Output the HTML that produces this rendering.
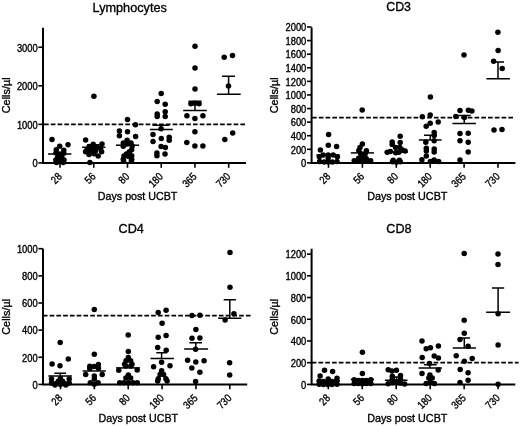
<!DOCTYPE html><html><head><meta charset="utf-8"><style>html,body{margin:0;padding:0;background:#fff;}svg{display:block;will-change:transform;}text{fill:#000;stroke:#000;stroke-width:0.35px;}</style></head><body>
<svg width="520" height="426" viewBox="0 0 520 426" font-family='"Liberation Sans", sans-serif'>
<rect width="520" height="426" fill="#fff"/>
<g><path d="M43 27.8V162.9H246.0" fill="none" stroke="#000" stroke-width="2.0"/><path d="M38.4 162.90H43" stroke="#000" stroke-width="1.6"/><text transform="rotate(0.01 37.7 167.20)" x="37.7" y="167.20" font-size="10.0" text-anchor="end" textLength="5.2" lengthAdjust="spacingAndGlyphs">0</text><path d="M38.4 124.35H43" stroke="#000" stroke-width="1.6"/><text transform="rotate(0.01 37.7 128.65)" x="37.7" y="128.65" font-size="10.0" text-anchor="end" textLength="20.8" lengthAdjust="spacingAndGlyphs">1000</text><path d="M38.4 85.80H43" stroke="#000" stroke-width="1.6"/><text transform="rotate(0.01 37.7 90.10)" x="37.7" y="90.10" font-size="10.0" text-anchor="end" textLength="20.8" lengthAdjust="spacingAndGlyphs">2000</text><path d="M38.4 47.25H43" stroke="#000" stroke-width="1.6"/><text transform="rotate(0.01 37.7 51.55)" x="37.7" y="51.55" font-size="10.0" text-anchor="end" textLength="20.8" lengthAdjust="spacingAndGlyphs">3000</text><path d="M60.00 162.9V167.8" stroke="#000" stroke-width="1.6"/><text transform="translate(62.50,177.20) rotate(-45)" font-size="10.8" text-anchor="end" textLength="10.2" lengthAdjust="spacingAndGlyphs">28</text><path d="M93.74 162.9V167.8" stroke="#000" stroke-width="1.6"/><text transform="translate(96.24,177.20) rotate(-45)" font-size="10.8" text-anchor="end" textLength="10.2" lengthAdjust="spacingAndGlyphs">56</text><path d="M127.48 162.9V167.8" stroke="#000" stroke-width="1.6"/><text transform="translate(129.98,177.20) rotate(-45)" font-size="10.8" text-anchor="end" textLength="10.2" lengthAdjust="spacingAndGlyphs">80</text><path d="M161.22 162.9V167.8" stroke="#000" stroke-width="1.6"/><text transform="translate(163.72,177.20) rotate(-45)" font-size="10.8" text-anchor="end" textLength="15.3" lengthAdjust="spacingAndGlyphs">180</text><path d="M194.96 162.9V167.8" stroke="#000" stroke-width="1.6"/><text transform="translate(197.46,177.20) rotate(-45)" font-size="10.8" text-anchor="end" textLength="15.3" lengthAdjust="spacingAndGlyphs">365</text><path d="M228.70 162.9V167.8" stroke="#000" stroke-width="1.6"/><text transform="translate(231.20,177.20) rotate(-45)" font-size="10.8" text-anchor="end" textLength="15.3" lengthAdjust="spacingAndGlyphs">730</text><path d="M44.03 124.4H245.0" stroke="#000" stroke-width="1.7" stroke-dasharray="4.67 2.1"/><text transform="rotate(0.01 129.7 11.8)" x="129.7" y="11.8" font-size="13.6" text-anchor="middle" textLength="74.2" lengthAdjust="spacingAndGlyphs">Lymphocytes</text><text transform="rotate(0.01 137.6 200.4)" x="137.6" y="200.4" font-size="11.2" text-anchor="middle" textLength="79.5" lengthAdjust="spacingAndGlyphs">Days post UCBT</text><text transform="translate(9.8,95.3) rotate(-89.99)" font-size="11.1" text-anchor="middle" textLength="35.9" lengthAdjust="spacingAndGlyphs">Cells/µl</text><path d="M48.1 154.0H71.4" stroke="#000" stroke-width="1.5" fill="none"/><path d="M82.1 147.3H105.4M87.4 144.8H99.8M93.6 144.8V147.3" stroke="#000" stroke-width="1.5" fill="none"/><path d="M115.9 145.2H139.1" stroke="#000" stroke-width="1.5" fill="none"/><path d="M149.9 129.6H172.8M152.6 125.2H169.2M161.1 125.2V129.6" stroke="#000" stroke-width="1.5" fill="none"/><path d="M183.2 110.5H206.8M188.5 101.2H201.5M195.0 101.2V110.5" stroke="#000" stroke-width="1.5" fill="none"/><path d="M216.9 94.2H240.7M222.0 76.3H235.0M228.6 76.3V94.2" stroke="#000" stroke-width="1.5" fill="none"/><circle cx="52.0" cy="139.4" r="2.75"/><circle cx="68.0" cy="144.8" r="2.75"/><circle cx="59.7" cy="146.2" r="2.75"/><circle cx="56.3" cy="149.8" r="2.75"/><circle cx="63.8" cy="150.2" r="2.75"/><circle cx="56.0" cy="153.0" r="2.75"/><circle cx="63.8" cy="153.2" r="2.75"/><circle cx="59.7" cy="153.9" r="2.75"/><circle cx="59.7" cy="155.5" r="2.75"/><circle cx="57.6" cy="157.6" r="2.75"/><circle cx="61.8" cy="157.6" r="2.75"/><circle cx="55.8" cy="160.0" r="2.75"/><circle cx="64.0" cy="160.0" r="2.75"/><circle cx="56.5" cy="162.6" r="2.75"/><circle cx="63.2" cy="162.6" r="2.75"/><circle cx="59.8" cy="161.5" r="2.75"/><circle cx="93.9" cy="96.3" r="2.75"/><circle cx="85.6" cy="139.9" r="2.75"/><circle cx="93.2" cy="144.2" r="2.75"/><circle cx="102.0" cy="144.0" r="2.75"/><circle cx="92.6" cy="147.6" r="2.75"/><circle cx="89.2" cy="146.5" r="2.75"/><circle cx="97.4" cy="147.6" r="2.75"/><circle cx="100.6" cy="148.6" r="2.75"/><circle cx="86.5" cy="150.5" r="2.75"/><circle cx="85.6" cy="151.8" r="2.75"/><circle cx="90.4" cy="150.6" r="2.75"/><circle cx="95.6" cy="150.8" r="2.75"/><circle cx="101.6" cy="151.8" r="2.75"/><circle cx="89.0" cy="154.4" r="2.75"/><circle cx="94.0" cy="153.8" r="2.75"/><circle cx="98.2" cy="156.0" r="2.75"/><circle cx="89.9" cy="162.4" r="2.75"/><circle cx="127.5" cy="119.6" r="2.75"/><circle cx="135.5" cy="124.8" r="2.75"/><circle cx="119.4" cy="130.9" r="2.75"/><circle cx="119.4" cy="135.8" r="2.75"/><circle cx="127.5" cy="131.8" r="2.75"/><circle cx="135.6" cy="136.5" r="2.75"/><circle cx="127.1" cy="140.3" r="2.75"/><circle cx="123.3" cy="143.0" r="2.75"/><circle cx="131.0" cy="143.0" r="2.75"/><circle cx="123.3" cy="146.2" r="2.75"/><circle cx="132.1" cy="145.9" r="2.75"/><circle cx="131.7" cy="149.7" r="2.75"/><circle cx="129.3" cy="151.8" r="2.75"/><circle cx="126.4" cy="154.0" r="2.75"/><circle cx="124.0" cy="156.0" r="2.75"/><circle cx="131.7" cy="155.7" r="2.75"/><circle cx="128.5" cy="156.5" r="2.75"/><circle cx="127.3" cy="144.0" r="2.75"/><circle cx="123.3" cy="159.2" r="2.75"/><circle cx="131.7" cy="159.2" r="2.75"/><circle cx="123.6" cy="161.3" r="2.75"/><circle cx="131.4" cy="161.3" r="2.75"/><circle cx="161.2" cy="93.4" r="2.75"/><circle cx="157.2" cy="101.6" r="2.75"/><circle cx="165.2" cy="104.3" r="2.75"/><circle cx="157.2" cy="113.9" r="2.75"/><circle cx="157.2" cy="116.6" r="2.75"/><circle cx="165.2" cy="111.7" r="2.75"/><circle cx="165.2" cy="116.4" r="2.75"/><circle cx="161.1" cy="128.8" r="2.75"/><circle cx="153.0" cy="134.5" r="2.75"/><circle cx="153.0" cy="141.6" r="2.75"/><circle cx="161.3" cy="138.6" r="2.75"/><circle cx="169.2" cy="137.2" r="2.75"/><circle cx="169.2" cy="140.2" r="2.75"/><circle cx="161.1" cy="146.4" r="2.75"/><circle cx="165.4" cy="147.6" r="2.75"/><circle cx="156.9" cy="152.9" r="2.75"/><circle cx="156.9" cy="155.7" r="2.75"/><circle cx="165.0" cy="154.0" r="2.75"/><circle cx="195" cy="46.3" r="2.75"/><circle cx="195" cy="68.1" r="2.75"/><circle cx="195" cy="89.0" r="2.75"/><circle cx="190.9" cy="103.8" r="2.75"/><circle cx="195" cy="103.2" r="2.75"/><circle cx="199.1" cy="103.8" r="2.75"/><circle cx="186.9" cy="115.8" r="2.75"/><circle cx="194.9" cy="118.6" r="2.75"/><circle cx="202.9" cy="115.8" r="2.75"/><circle cx="194.9" cy="131.8" r="2.75"/><circle cx="186.8" cy="142.6" r="2.75"/><circle cx="194.9" cy="146.0" r="2.75"/><circle cx="202.9" cy="146.0" r="2.75"/><circle cx="224.2" cy="57.2" r="2.75"/><circle cx="232.5" cy="55.6" r="2.75"/><circle cx="228.5" cy="86.1" r="2.75"/><circle cx="232.7" cy="133.1" r="2.75"/><circle cx="224.8" cy="139.5" r="2.75"/></g>
<g><path d="M311.6 27.4V162.9H515.4" fill="none" stroke="#000" stroke-width="2.0"/><path d="M307.0 162.90H311.6" stroke="#000" stroke-width="1.6"/><text transform="rotate(0.01 306.3 167.20)" x="306.3" y="167.20" font-size="10.0" text-anchor="end" textLength="5.2" lengthAdjust="spacingAndGlyphs">0</text><path d="M307.0 149.31H311.6" stroke="#000" stroke-width="1.6"/><text transform="rotate(0.01 306.3 153.61)" x="306.3" y="153.61" font-size="10.0" text-anchor="end" textLength="15.6" lengthAdjust="spacingAndGlyphs">200</text><path d="M307.0 135.72H311.6" stroke="#000" stroke-width="1.6"/><text transform="rotate(0.01 306.3 140.02)" x="306.3" y="140.02" font-size="10.0" text-anchor="end" textLength="15.6" lengthAdjust="spacingAndGlyphs">400</text><path d="M307.0 122.13H311.6" stroke="#000" stroke-width="1.6"/><text transform="rotate(0.01 306.3 126.43)" x="306.3" y="126.43" font-size="10.0" text-anchor="end" textLength="15.6" lengthAdjust="spacingAndGlyphs">600</text><path d="M307.0 108.54H311.6" stroke="#000" stroke-width="1.6"/><text transform="rotate(0.01 306.3 112.84)" x="306.3" y="112.84" font-size="10.0" text-anchor="end" textLength="15.6" lengthAdjust="spacingAndGlyphs">800</text><path d="M307.0 94.95H311.6" stroke="#000" stroke-width="1.6"/><text transform="rotate(0.01 306.3 99.25)" x="306.3" y="99.25" font-size="10.0" text-anchor="end" textLength="20.8" lengthAdjust="spacingAndGlyphs">1000</text><path d="M307.0 81.36H311.6" stroke="#000" stroke-width="1.6"/><text transform="rotate(0.01 306.3 85.66)" x="306.3" y="85.66" font-size="10.0" text-anchor="end" textLength="20.8" lengthAdjust="spacingAndGlyphs">1200</text><path d="M307.0 67.77H311.6" stroke="#000" stroke-width="1.6"/><text transform="rotate(0.01 306.3 72.07)" x="306.3" y="72.07" font-size="10.0" text-anchor="end" textLength="20.8" lengthAdjust="spacingAndGlyphs">1400</text><path d="M307.0 54.18H311.6" stroke="#000" stroke-width="1.6"/><text transform="rotate(0.01 306.3 58.48)" x="306.3" y="58.48" font-size="10.0" text-anchor="end" textLength="20.8" lengthAdjust="spacingAndGlyphs">1600</text><path d="M307.0 40.59H311.6" stroke="#000" stroke-width="1.6"/><text transform="rotate(0.01 306.3 44.89)" x="306.3" y="44.89" font-size="10.0" text-anchor="end" textLength="20.8" lengthAdjust="spacingAndGlyphs">1800</text><path d="M307.0 27.00H311.6" stroke="#000" stroke-width="1.6"/><text transform="rotate(0.01 306.3 31.30)" x="306.3" y="31.30" font-size="10.0" text-anchor="end" textLength="20.8" lengthAdjust="spacingAndGlyphs">2000</text><path d="M328.50 162.9V167.8" stroke="#000" stroke-width="1.6"/><text transform="translate(331.00,177.20) rotate(-45)" font-size="10.8" text-anchor="end" textLength="10.2" lengthAdjust="spacingAndGlyphs">28</text><path d="M362.40 162.9V167.8" stroke="#000" stroke-width="1.6"/><text transform="translate(364.90,177.20) rotate(-45)" font-size="10.8" text-anchor="end" textLength="10.2" lengthAdjust="spacingAndGlyphs">56</text><path d="M396.30 162.9V167.8" stroke="#000" stroke-width="1.6"/><text transform="translate(398.80,177.20) rotate(-45)" font-size="10.8" text-anchor="end" textLength="10.2" lengthAdjust="spacingAndGlyphs">80</text><path d="M430.20 162.9V167.8" stroke="#000" stroke-width="1.6"/><text transform="translate(432.70,177.20) rotate(-45)" font-size="10.8" text-anchor="end" textLength="15.3" lengthAdjust="spacingAndGlyphs">180</text><path d="M464.10 162.9V167.8" stroke="#000" stroke-width="1.6"/><text transform="translate(466.60,177.20) rotate(-45)" font-size="10.8" text-anchor="end" textLength="15.3" lengthAdjust="spacingAndGlyphs">365</text><path d="M498.00 162.9V167.8" stroke="#000" stroke-width="1.6"/><text transform="translate(500.50,177.20) rotate(-45)" font-size="10.8" text-anchor="end" textLength="15.3" lengthAdjust="spacingAndGlyphs">730</text><path d="M312.03 117.7H513.5" stroke="#000" stroke-width="1.7" stroke-dasharray="4.67 2.1"/><text transform="rotate(0.01 398.6 11.2)" x="398.6" y="11.2" font-size="13.6" text-anchor="middle" textLength="24.8" lengthAdjust="spacingAndGlyphs">CD3</text><text transform="rotate(0.01 407.3 200.4)" x="407.3" y="200.4" font-size="11.2" text-anchor="middle" textLength="80.3" lengthAdjust="spacingAndGlyphs">Days post UCBT</text><text transform="translate(278.4,95.3) rotate(-89.99)" font-size="11.1" text-anchor="middle" textLength="35.9" lengthAdjust="spacingAndGlyphs">Cells/µl</text><path d="M316.4 155.1H339.6" stroke="#000" stroke-width="1.5" fill="none"/><path d="M350.8 152.9H374.0" stroke="#000" stroke-width="1.5" fill="none"/><path d="M384.6 152.0H408.0" stroke="#000" stroke-width="1.5" fill="none"/><path d="M418.9 140.1H441.6M424.0 135.3H436.6M430.3 135.3V140.1" stroke="#000" stroke-width="1.5" fill="none"/><path d="M452.4 123.5H475.9M458.0 115.6H470.7M464.2 115.6V123.5" stroke="#000" stroke-width="1.5" fill="none"/><path d="M486.4 78.7H509.9M492.0 62.0H504.0M498.0 62.0V78.7" stroke="#000" stroke-width="1.5" fill="none"/><circle cx="328.6" cy="134.4" r="2.75"/><circle cx="328.3" cy="145.3" r="2.75"/><circle cx="336.6" cy="146.6" r="2.75"/><circle cx="320.4" cy="150.0" r="2.75"/><circle cx="319.3" cy="156.8" r="2.75"/><circle cx="323.2" cy="155.0" r="2.75"/><circle cx="328.2" cy="154.9" r="2.75"/><circle cx="333.2" cy="155.0" r="2.75"/><circle cx="337.4" cy="156.8" r="2.75"/><circle cx="328.2" cy="158.0" r="2.75"/><circle cx="319.6" cy="161.6" r="2.75"/><circle cx="324.2" cy="162.0" r="2.75"/><circle cx="328.2" cy="162.0" r="2.75"/><circle cx="332.3" cy="162.0" r="2.75"/><circle cx="337.0" cy="161.6" r="2.75"/><circle cx="362.2" cy="109.9" r="2.75"/><circle cx="362.4" cy="144.0" r="2.75"/><circle cx="360.0" cy="147.6" r="2.75"/><circle cx="358.8" cy="150.6" r="2.75"/><circle cx="366.4" cy="150.8" r="2.75"/><circle cx="360.6" cy="153.4" r="2.75"/><circle cx="365.4" cy="153.6" r="2.75"/><circle cx="362.2" cy="156.6" r="2.75"/><circle cx="358.6" cy="158.2" r="2.75"/><circle cx="366.2" cy="158.4" r="2.75"/><circle cx="354.2" cy="160.8" r="2.75"/><circle cx="358.2" cy="161.2" r="2.75"/><circle cx="362.4" cy="161.6" r="2.75"/><circle cx="366.6" cy="161.2" r="2.75"/><circle cx="370.6" cy="160.8" r="2.75"/><circle cx="400.2" cy="136.3" r="2.75"/><circle cx="392.2" cy="142.1" r="2.75"/><circle cx="400.2" cy="142.5" r="2.75"/><circle cx="392.2" cy="144.6" r="2.75"/><circle cx="395.7" cy="147.4" r="2.75"/><circle cx="399.8" cy="147.4" r="2.75"/><circle cx="387.3" cy="152.3" r="2.75"/><circle cx="390.4" cy="151.4" r="2.75"/><circle cx="405.1" cy="151.0" r="2.75"/><circle cx="402.4" cy="150.0" r="2.75"/><circle cx="395.7" cy="152.8" r="2.75"/><circle cx="398.9" cy="152.3" r="2.75"/><circle cx="393.2" cy="160.3" r="2.75"/><circle cx="399.4" cy="160.3" r="2.75"/><circle cx="392.5" cy="161.8" r="2.75"/><circle cx="400.3" cy="161.8" r="2.75"/><circle cx="396.4" cy="162.2" r="2.75"/><circle cx="430.4" cy="97.0" r="2.75"/><circle cx="422.3" cy="116.8" r="2.75"/><circle cx="430.2" cy="114.9" r="2.75"/><circle cx="438.2" cy="121.9" r="2.75"/><circle cx="430.2" cy="123.3" r="2.75"/><circle cx="426.2" cy="126.2" r="2.75"/><circle cx="434.2" cy="132.4" r="2.75"/><circle cx="434.2" cy="135.4" r="2.75"/><circle cx="425.8" cy="142.2" r="2.75"/><circle cx="434.2" cy="140.8" r="2.75"/><circle cx="426.3" cy="148.2" r="2.75"/><circle cx="426.3" cy="151.1" r="2.75"/><circle cx="426.3" cy="156.0" r="2.75"/><circle cx="434.2" cy="149.1" r="2.75"/><circle cx="434.2" cy="152.1" r="2.75"/><circle cx="421.9" cy="159.7" r="2.75"/><circle cx="430.3" cy="161.5" r="2.75"/><circle cx="434.2" cy="160.0" r="2.75"/><circle cx="438.6" cy="161.5" r="2.75"/><circle cx="464.0" cy="54.9" r="2.75"/><circle cx="460.0" cy="110.4" r="2.75"/><circle cx="468.4" cy="110.2" r="2.75"/><circle cx="471.9" cy="111.0" r="2.75"/><circle cx="455.8" cy="116.4" r="2.75"/><circle cx="464.4" cy="117.6" r="2.75"/><circle cx="460.0" cy="133.6" r="2.75"/><circle cx="468.2" cy="133.2" r="2.75"/><circle cx="460.0" cy="140.7" r="2.75"/><circle cx="468.2" cy="142.3" r="2.75"/><circle cx="468.2" cy="151.9" r="2.75"/><circle cx="460.0" cy="159.9" r="2.75"/><circle cx="497.9" cy="32.3" r="2.75"/><circle cx="498.1" cy="50.6" r="2.75"/><circle cx="493.6" cy="61.2" r="2.75"/><circle cx="502.2" cy="68.5" r="2.75"/><circle cx="494.0" cy="130.1" r="2.75"/><circle cx="502.0" cy="129.4" r="2.75"/></g>
<g><path d="M43 248.7V384.4H247.2" fill="none" stroke="#000" stroke-width="2.0"/><path d="M38.4 384.40H43" stroke="#000" stroke-width="1.6"/><text transform="rotate(0.01 37.7 388.70)" x="37.7" y="388.70" font-size="10.0" text-anchor="end" textLength="5.2" lengthAdjust="spacingAndGlyphs">0</text><path d="M38.4 357.26H43" stroke="#000" stroke-width="1.6"/><text transform="rotate(0.01 37.7 361.56)" x="37.7" y="361.56" font-size="10.0" text-anchor="end" textLength="15.6" lengthAdjust="spacingAndGlyphs">200</text><path d="M38.4 330.12H43" stroke="#000" stroke-width="1.6"/><text transform="rotate(0.01 37.7 334.42)" x="37.7" y="334.42" font-size="10.0" text-anchor="end" textLength="15.6" lengthAdjust="spacingAndGlyphs">400</text><path d="M38.4 302.98H43" stroke="#000" stroke-width="1.6"/><text transform="rotate(0.01 37.7 307.28)" x="37.7" y="307.28" font-size="10.0" text-anchor="end" textLength="15.6" lengthAdjust="spacingAndGlyphs">600</text><path d="M38.4 275.84H43" stroke="#000" stroke-width="1.6"/><text transform="rotate(0.01 37.7 280.14)" x="37.7" y="280.14" font-size="10.0" text-anchor="end" textLength="15.6" lengthAdjust="spacingAndGlyphs">800</text><path d="M38.4 248.70H43" stroke="#000" stroke-width="1.6"/><text transform="rotate(0.01 37.7 253.00)" x="37.7" y="253.00" font-size="10.0" text-anchor="end" textLength="20.8" lengthAdjust="spacingAndGlyphs">1000</text><path d="M60.50 384.4V389.29999999999995" stroke="#000" stroke-width="1.6"/><text transform="translate(63.00,398.70) rotate(-45)" font-size="10.8" text-anchor="end" textLength="10.2" lengthAdjust="spacingAndGlyphs">28</text><path d="M94.36 384.4V389.29999999999995" stroke="#000" stroke-width="1.6"/><text transform="translate(96.86,398.70) rotate(-45)" font-size="10.8" text-anchor="end" textLength="10.2" lengthAdjust="spacingAndGlyphs">56</text><path d="M128.22 384.4V389.29999999999995" stroke="#000" stroke-width="1.6"/><text transform="translate(130.72,398.70) rotate(-45)" font-size="10.8" text-anchor="end" textLength="10.2" lengthAdjust="spacingAndGlyphs">80</text><path d="M162.08 384.4V389.29999999999995" stroke="#000" stroke-width="1.6"/><text transform="translate(164.58,398.70) rotate(-45)" font-size="10.8" text-anchor="end" textLength="15.3" lengthAdjust="spacingAndGlyphs">180</text><path d="M195.94 384.4V389.29999999999995" stroke="#000" stroke-width="1.6"/><text transform="translate(198.44,398.70) rotate(-45)" font-size="10.8" text-anchor="end" textLength="15.3" lengthAdjust="spacingAndGlyphs">365</text><path d="M229.80 384.4V389.29999999999995" stroke="#000" stroke-width="1.6"/><text transform="translate(232.30,398.70) rotate(-45)" font-size="10.8" text-anchor="end" textLength="15.3" lengthAdjust="spacingAndGlyphs">730</text><path d="M42.83 315.7H250.7" stroke="#000" stroke-width="1.7" stroke-dasharray="4.67 2.1"/><text transform="rotate(0.01 131.2 232.8)" x="131.2" y="232.8" font-size="13.6" text-anchor="middle" textLength="25.3" lengthAdjust="spacingAndGlyphs">CD4</text><text transform="rotate(0.01 138.3 422.2)" x="138.3" y="422.2" font-size="11.2" text-anchor="middle" textLength="79.5" lengthAdjust="spacingAndGlyphs">Days post UCBT</text><text transform="translate(9.8,316.8) rotate(-89.99)" font-size="11.1" text-anchor="middle" textLength="35.9" lengthAdjust="spacingAndGlyphs">Cells/µl</text><path d="M48.3 376.0H71.9M54.2 373.3H66.0M60.3 373.3V376.0" stroke="#000" stroke-width="1.5" fill="none"/><path d="M82.6 371.0H105.8" stroke="#000" stroke-width="1.5" fill="none"/><path d="M116.1 367.9H139.9" stroke="#000" stroke-width="1.5" fill="none"/><path d="M150.5 358.4H173.9M156.3 352.7H167.1M161.6 352.7V358.4" stroke="#000" stroke-width="1.5" fill="none"/><path d="M184.2 349.0H208.1M189.4 342.8H202.0M195.8 342.8V349.0" stroke="#000" stroke-width="1.5" fill="none"/><path d="M218.1 318.3H241.3M223.7 299.7H235.9M229.8 299.7V318.3" stroke="#000" stroke-width="1.5" fill="none"/><circle cx="60.2" cy="342.6" r="2.75"/><circle cx="68.3" cy="359.0" r="2.75"/><circle cx="52.1" cy="364.1" r="2.75"/><circle cx="60.0" cy="365.7" r="2.75"/><circle cx="51.5" cy="378.9" r="2.75"/><circle cx="69.2" cy="378.9" r="2.75"/><circle cx="51.5" cy="383.0" r="2.75"/><circle cx="69.2" cy="383.0" r="2.75"/><circle cx="60.4" cy="378.6" r="2.75"/><circle cx="58.3" cy="381.2" r="2.75"/><circle cx="62.5" cy="381.2" r="2.75"/><circle cx="56.2" cy="383.6" r="2.75"/><circle cx="64.6" cy="383.6" r="2.75"/><circle cx="60.4" cy="384.4" r="2.75"/><circle cx="55.0" cy="385.0" r="2.75"/><circle cx="65.8" cy="385.0" r="2.75"/><circle cx="94.3" cy="309.5" r="2.75"/><circle cx="94.3" cy="354.3" r="2.75"/><circle cx="89.8" cy="366.3" r="2.75"/><circle cx="98.4" cy="364.5" r="2.75"/><circle cx="94.1" cy="366.6" r="2.75"/><circle cx="89.8" cy="368.5" r="2.75"/><circle cx="98.4" cy="368.2" r="2.75"/><circle cx="85.7" cy="374.4" r="2.75"/><circle cx="102.2" cy="374.4" r="2.75"/><circle cx="94.3" cy="376.0" r="2.75"/><circle cx="94.3" cy="379.0" r="2.75"/><circle cx="90.3" cy="382.7" r="2.75"/><circle cx="98.1" cy="382.7" r="2.75"/><circle cx="94.3" cy="384.2" r="2.75"/><circle cx="128.2" cy="334.9" r="2.75"/><circle cx="128.3" cy="351.4" r="2.75"/><circle cx="128.3" cy="357.6" r="2.75"/><circle cx="126.0" cy="360.8" r="2.75"/><circle cx="130.6" cy="360.8" r="2.75"/><circle cx="124.6" cy="364.2" r="2.75"/><circle cx="132.0" cy="364.2" r="2.75"/><circle cx="125.8" cy="366.0" r="2.75"/><circle cx="130.8" cy="366.0" r="2.75"/><circle cx="118.8" cy="370.3" r="2.75"/><circle cx="137.2" cy="370.1" r="2.75"/><circle cx="128.3" cy="375.0" r="2.75"/><circle cx="125.9" cy="378.0" r="2.75"/><circle cx="130.6" cy="378.0" r="2.75"/><circle cx="119.7" cy="382.7" r="2.75"/><circle cx="123.8" cy="382.7" r="2.75"/><circle cx="128.3" cy="382.7" r="2.75"/><circle cx="133.1" cy="382.7" r="2.75"/><circle cx="137.3" cy="382.7" r="2.75"/><circle cx="158.2" cy="312.5" r="2.75"/><circle cx="166.1" cy="310.2" r="2.75"/><circle cx="162.1" cy="323.3" r="2.75"/><circle cx="158.2" cy="337.3" r="2.75"/><circle cx="166.1" cy="335.5" r="2.75"/><circle cx="157.7" cy="347.6" r="2.75"/><circle cx="166.2" cy="350.3" r="2.75"/><circle cx="161.6" cy="362.3" r="2.75"/><circle cx="153.6" cy="366.7" r="2.75"/><circle cx="170.0" cy="365.8" r="2.75"/><circle cx="161.6" cy="370.7" r="2.75"/><circle cx="160.1" cy="374.6" r="2.75"/><circle cx="163.6" cy="374.6" r="2.75"/><circle cx="158.3" cy="378.7" r="2.75"/><circle cx="165.9" cy="378.7" r="2.75"/><circle cx="157.7" cy="381.0" r="2.75"/><circle cx="167.1" cy="381.0" r="2.75"/><circle cx="192.0" cy="315.6" r="2.75"/><circle cx="199.9" cy="315.2" r="2.75"/><circle cx="195.9" cy="329.5" r="2.75"/><circle cx="192.0" cy="338.3" r="2.75"/><circle cx="199.9" cy="338.1" r="2.75"/><circle cx="195.6" cy="349.2" r="2.75"/><circle cx="187.6" cy="360.3" r="2.75"/><circle cx="195.8" cy="362.1" r="2.75"/><circle cx="204.1" cy="360.8" r="2.75"/><circle cx="191.8" cy="368.0" r="2.75"/><circle cx="199.9" cy="372.2" r="2.75"/><circle cx="195.6" cy="381.4" r="2.75"/><circle cx="230.0" cy="252.4" r="2.75"/><circle cx="230.0" cy="287.2" r="2.75"/><circle cx="233.9" cy="313.8" r="2.75"/><circle cx="225.1" cy="320.0" r="2.75"/><circle cx="229.6" cy="362.7" r="2.75"/><circle cx="229.7" cy="374.9" r="2.75"/></g>
<g><path d="M311.6 248.7V384.4H515.3" fill="none" stroke="#000" stroke-width="2.0"/><path d="M307.0 384.40H311.6" stroke="#000" stroke-width="1.6"/><text transform="rotate(0.01 306.3 388.70)" x="306.3" y="388.70" font-size="10.0" text-anchor="end" textLength="5.2" lengthAdjust="spacingAndGlyphs">0</text><path d="M307.0 362.68H311.6" stroke="#000" stroke-width="1.6"/><text transform="rotate(0.01 306.3 366.98)" x="306.3" y="366.98" font-size="10.0" text-anchor="end" textLength="15.6" lengthAdjust="spacingAndGlyphs">200</text><path d="M307.0 340.97H311.6" stroke="#000" stroke-width="1.6"/><text transform="rotate(0.01 306.3 345.27)" x="306.3" y="345.27" font-size="10.0" text-anchor="end" textLength="15.6" lengthAdjust="spacingAndGlyphs">400</text><path d="M307.0 319.25H311.6" stroke="#000" stroke-width="1.6"/><text transform="rotate(0.01 306.3 323.55)" x="306.3" y="323.55" font-size="10.0" text-anchor="end" textLength="15.6" lengthAdjust="spacingAndGlyphs">600</text><path d="M307.0 297.53H311.6" stroke="#000" stroke-width="1.6"/><text transform="rotate(0.01 306.3 301.83)" x="306.3" y="301.83" font-size="10.0" text-anchor="end" textLength="15.6" lengthAdjust="spacingAndGlyphs">800</text><path d="M307.0 275.82H311.6" stroke="#000" stroke-width="1.6"/><text transform="rotate(0.01 306.3 280.12)" x="306.3" y="280.12" font-size="10.0" text-anchor="end" textLength="20.8" lengthAdjust="spacingAndGlyphs">1000</text><path d="M307.0 254.10H311.6" stroke="#000" stroke-width="1.6"/><text transform="rotate(0.01 306.3 258.40)" x="306.3" y="258.40" font-size="10.0" text-anchor="end" textLength="20.8" lengthAdjust="spacingAndGlyphs">1200</text><path d="M328.30 384.4V389.29999999999995" stroke="#000" stroke-width="1.6"/><text transform="translate(330.80,398.70) rotate(-45)" font-size="10.8" text-anchor="end" textLength="10.2" lengthAdjust="spacingAndGlyphs">28</text><path d="M362.26 384.4V389.29999999999995" stroke="#000" stroke-width="1.6"/><text transform="translate(364.76,398.70) rotate(-45)" font-size="10.8" text-anchor="end" textLength="10.2" lengthAdjust="spacingAndGlyphs">56</text><path d="M396.22 384.4V389.29999999999995" stroke="#000" stroke-width="1.6"/><text transform="translate(398.72,398.70) rotate(-45)" font-size="10.8" text-anchor="end" textLength="10.2" lengthAdjust="spacingAndGlyphs">80</text><path d="M430.18 384.4V389.29999999999995" stroke="#000" stroke-width="1.6"/><text transform="translate(432.68,398.70) rotate(-45)" font-size="10.8" text-anchor="end" textLength="15.3" lengthAdjust="spacingAndGlyphs">180</text><path d="M464.14 384.4V389.29999999999995" stroke="#000" stroke-width="1.6"/><text transform="translate(466.64,398.70) rotate(-45)" font-size="10.8" text-anchor="end" textLength="15.3" lengthAdjust="spacingAndGlyphs">365</text><path d="M498.10 384.4V389.29999999999995" stroke="#000" stroke-width="1.6"/><text transform="translate(500.60,398.70) rotate(-45)" font-size="10.8" text-anchor="end" textLength="15.3" lengthAdjust="spacingAndGlyphs">730</text><path d="M311.73 362.6H518.6" stroke="#000" stroke-width="1.7" stroke-dasharray="4.67 2.1"/><text transform="rotate(0.01 399.0 232.7)" x="399.0" y="232.7" font-size="13.6" text-anchor="middle" textLength="25.3" lengthAdjust="spacingAndGlyphs">CD8</text><text transform="rotate(0.01 407.3 422.2)" x="407.3" y="422.2" font-size="11.2" text-anchor="middle" textLength="80.3" lengthAdjust="spacingAndGlyphs">Days post UCBT</text><text transform="translate(278.4,316.8) rotate(-89.99)" font-size="11.1" text-anchor="middle" textLength="35.9" lengthAdjust="spacingAndGlyphs">Cells/µl</text><path d="M316.6 381.0H340.0" stroke="#000" stroke-width="1.5" fill="none"/><path d="M350.8 379.4H374.0" stroke="#000" stroke-width="1.5" fill="none"/><path d="M384.9 380.3H407.5M390.0 377.0H402.6M396.5 377.0V380.3" stroke="#000" stroke-width="1.5" fill="none"/><path d="M418.6 367.9H441.9M423.9 364.8H436.7M429.8 364.8V367.9" stroke="#000" stroke-width="1.5" fill="none"/><path d="M452.8 348.1H475.9M458.9 338.1H470.0M464.3 338.1V348.1" stroke="#000" stroke-width="1.5" fill="none"/><path d="M486.1 312.2H510.1M492.0 287.9H504.2M498.1 287.9V312.2" stroke="#000" stroke-width="1.5" fill="none"/><circle cx="324.5" cy="370.2" r="2.75"/><circle cx="332.6" cy="371.6" r="2.75"/><circle cx="320.1" cy="376.1" r="2.75"/><circle cx="328.2" cy="379.0" r="2.75"/><circle cx="337.0" cy="378.3" r="2.75"/><circle cx="319.2" cy="381.0" r="2.75"/><circle cx="323.4" cy="381.4" r="2.75"/><circle cx="327.6" cy="381.8" r="2.75"/><circle cx="332.0" cy="381.4" r="2.75"/><circle cx="336.6" cy="381.0" r="2.75"/><circle cx="319.2" cy="384.3" r="2.75"/><circle cx="323.4" cy="384.5" r="2.75"/><circle cx="327.6" cy="384.5" r="2.75"/><circle cx="332.0" cy="384.5" r="2.75"/><circle cx="337.0" cy="384.3" r="2.75"/><circle cx="362.4" cy="352.3" r="2.75"/><circle cx="362.4" cy="373.4" r="2.75"/><circle cx="354.2" cy="379.8" r="2.75"/><circle cx="358.4" cy="380.5" r="2.75"/><circle cx="362.4" cy="380.5" r="2.75"/><circle cx="366.4" cy="380.5" r="2.75"/><circle cx="370.8" cy="379.8" r="2.75"/><circle cx="354.2" cy="383.6" r="2.75"/><circle cx="358.4" cy="383.6" r="2.75"/><circle cx="362.4" cy="383.8" r="2.75"/><circle cx="366.4" cy="383.6" r="2.75"/><circle cx="370.8" cy="383.6" r="2.75"/><circle cx="388.2" cy="369.8" r="2.75"/><circle cx="391.9" cy="371.0" r="2.75"/><circle cx="396.4" cy="370.2" r="2.75"/><circle cx="392.3" cy="376.3" r="2.75"/><circle cx="400.5" cy="375.5" r="2.75"/><circle cx="392.3" cy="379.2" r="2.75"/><circle cx="400.5" cy="379.2" r="2.75"/><circle cx="388.2" cy="383.7" r="2.75"/><circle cx="392.3" cy="382.5" r="2.75"/><circle cx="396.8" cy="382.1" r="2.75"/><circle cx="400.5" cy="382.9" r="2.75"/><circle cx="404.6" cy="384.1" r="2.75"/><circle cx="422.0" cy="341.0" r="2.75"/><circle cx="426.2" cy="348.7" r="2.75"/><circle cx="430.4" cy="347.7" r="2.75"/><circle cx="438.4" cy="345.9" r="2.75"/><circle cx="422.2" cy="357.5" r="2.75"/><circle cx="434.2" cy="356.0" r="2.75"/><circle cx="438.4" cy="358.1" r="2.75"/><circle cx="429.5" cy="363.6" r="2.75"/><circle cx="438.2" cy="370.0" r="2.75"/><circle cx="422.0" cy="373.4" r="2.75"/><circle cx="429.9" cy="374.9" r="2.75"/><circle cx="428.8" cy="377.9" r="2.75"/><circle cx="432.2" cy="377.9" r="2.75"/><circle cx="426.2" cy="383.6" r="2.75"/><circle cx="434.4" cy="383.6" r="2.75"/><circle cx="430.3" cy="382.0" r="2.75"/><circle cx="464.2" cy="253.6" r="2.75"/><circle cx="464.2" cy="320.2" r="2.75"/><circle cx="464.3" cy="333.2" r="2.75"/><circle cx="460.0" cy="339.5" r="2.75"/><circle cx="468.1" cy="346.3" r="2.75"/><circle cx="456.2" cy="355.8" r="2.75"/><circle cx="472.2" cy="358.5" r="2.75"/><circle cx="464.3" cy="361.3" r="2.75"/><circle cx="460.2" cy="369.4" r="2.75"/><circle cx="468.1" cy="372.8" r="2.75"/><circle cx="468.1" cy="380.3" r="2.75"/><circle cx="460.0" cy="382.6" r="2.75"/><circle cx="498.0" cy="254.0" r="2.75"/><circle cx="498.0" cy="264.5" r="2.75"/><circle cx="498.1" cy="313.8" r="2.75"/><circle cx="498.1" cy="345.1" r="2.75"/><circle cx="498.1" cy="384.3" r="2.75"/></g>
</svg></body></html>
